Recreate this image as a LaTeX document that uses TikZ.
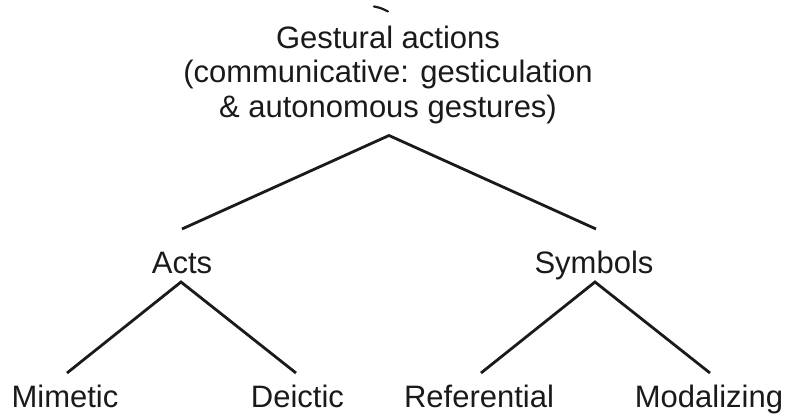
\documentclass[tikz,border=0pt]{standalone}
\usepackage{fontspec}
\setmainfont{Liberation Sans}
\usetikzlibrary{calc}
\definecolor{ink}{HTML}{1A1A1A}
\tikzset{
  lbl/.style={font=\fontsize{31}{35}\selectfont, text=ink, inner sep=0pt, anchor=base},
  branch/.style={line width=2.8pt, draw=ink, line cap=butt, line join=miter}
}
\begin{document}
\begin{tikzpicture}[x=1pt,y=-1pt]
\useasboundingbox (0,0) rectangle (788,417);
\node[lbl, align=center] (root) at (388,118) {Gestural actions\\(communicative: gesticulation\\\& autonomous gestures)};
\node[lbl] (acts) at (182,273) {Acts};
\node[lbl] (symbols) at (594,273) {Symbols};
\node[lbl] (mimetic) at (65,407) {Mimetic};
\node[lbl] (deictic) at (297.5,407) {Deictic};
\node[lbl] (referential) at (479,407) {Referential};
\node[lbl] (modalizing) at (709,407) {Modalizing};
\coordinate (rootapex) at (389,135.5);
\coordinate (markA) at (374,6.5);
\coordinate (markB) at (388,11.5);
\draw[ink, line width=2.2pt, line cap=round] (markA) .. controls ($(markA)!0.5!(markB)+(0,-1)$) .. (markB);
\draw[branch] ($(acts.base)+(0,-44)$) -- (rootapex) -- ($(symbols.base)+(2,-44)$);
\draw[branch] ($(mimetic.base)+(2,-34)$) -- ($(acts.base)+(-1,9)$) -- ($(deictic.base)+(-1.5,-34)$);
\draw[branch] ($(referential.base)+(2,-34)$) -- ($(symbols.base)+(1,9)$) -- ($(modalizing.base)+(1,-34)$);
\end{tikzpicture}
\end{document}
